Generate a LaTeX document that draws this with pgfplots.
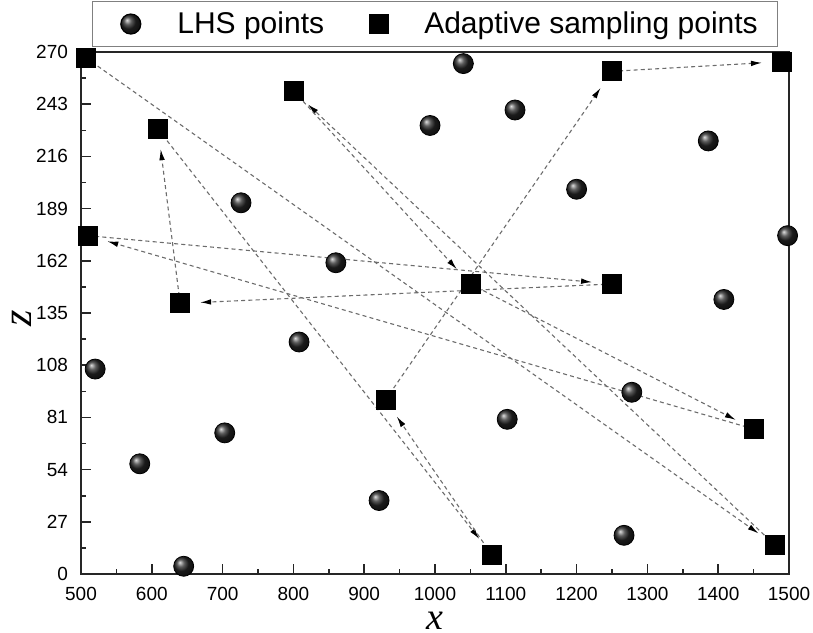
\documentclass[border=0pt]{standalone}
\usepackage{fontspec}
\setmainfont{Liberation Sans}
\newfontfamily\seriffont{Liberation Serif}
\usepackage{pgfplots}
\pgfplotsset{compat=1.18}
\usetikzlibrary{arrows.meta}

\pgfplotstableread{
x y
1040 264
993 232
1113 240
1386 224
1200 199
726 192
1498 175
860 161
1408 142
808 120
520 106
1278 94
703 73
1102 80
583 57
921 38
1267 20
645 4
}\lhs

\pgfplotstableread{
x y
507 267
800 250
1250 260
1490 265
609 230
510 175
640 140
1050 150
1250 150
930 90
1450 75
1080 10
1480 15
}\adaptive

\tikzset{arr/.style={dash pattern=on 2pt off 1.6pt, line width=0.55pt, color=gray!85!black,
  -{Latex[length=5.5pt,width=2.8pt,black]}, shorten >=10pt}}

\begin{document}
\begin{tikzpicture}
\useasboundingbox (-40.5pt,-29pt) rectangle (366pt,287pt);
\begin{axis}[
  scale only axis, width=354pt, height=261pt,
  xmin=500, xmax=1500, ymin=0, ymax=270,
  xtick={500,600,...,1500}, ytick={0,27,...,270},
  minor tick num=1,
  tick pos=left, tick align=inside,
  major tick length=5pt, minor tick length=2.5pt,
  axis line style={line width=0.8pt, black!85},
  every tick/.style={line width=0.8pt, black!85},
  ticklabel style={font=\fontsize{9.5}{10}\selectfont},
  xticklabel style={yshift=-3pt},
  yticklabel style={xshift=-3pt},
  /pgf/number format/assume math mode=true,
  /pgf/number format/1000 sep={},
  xlabel={\seriffont\itshape x}, ylabel={\seriffont\itshape z},
  xlabel style={font=\fontsize{19}{19}\selectfont, inner sep=0pt, at={(axis description cs:0.5,-0.089)}, anchor=center},
  ylabel style={font=\fontsize{21}{21}\selectfont, inner sep=0pt, at={(axis description cs:-0.0833,0.49)}, anchor=center},
  clip=false,
  legend columns=2,
  legend image code/.code={\path (-11pt,0pt) (4pt,0pt); \draw[#1] plot coordinates {(0pt,0pt)};},
  legend style={at={(axis description cs:0.5,1)}, anchor=south, yshift=2.5pt, draw=gray,
    line width=0.6pt, inner xsep=7.75pt, inner ysep=3pt,
    font=\fontsize{15}{16}\selectfont,
    /tikz/every odd column/.append style={column sep=16pt},
    /tikz/every even column/.append style={column sep=14pt}},
]
% sampling order arrows
\addplot[arr, forget plot] coordinates {(507,267) (1480,15)};
\addplot[arr, forget plot] coordinates {(1480,15) (800,250)};
\addplot[arr, forget plot] coordinates {(800,250) (1050,150)};
\addplot[arr, forget plot] coordinates {(1050,150) (1450,75)};
\addplot[arr, forget plot] coordinates {(1450,75) (510,175)};
\addplot[arr, forget plot] coordinates {(510,175) (1250,150)};
\addplot[arr, forget plot] coordinates {(1250,150) (640,140)};
\addplot[arr, forget plot] coordinates {(640,140) (609,230)};
\addplot[arr, forget plot] coordinates {(609,230) (1080,10)};
\addplot[arr, forget plot] coordinates {(1080,10) (930,90)};
\addplot[arr, forget plot] coordinates {(930,90) (1250,260)};
\addplot[arr, forget plot] coordinates {(1250,260) (1490,265)};

\addplot[only marks, mark=ball, mark size=5pt, mark options={ball color=black!85}] table {\lhs};
\addlegendentry{LHS points}
\addplot[only marks, mark=square*, mark size=4.75pt, mark options={fill=black, draw=black}] table {\adaptive};
\addlegendentry{Adaptive sampling points}
\end{axis}
\end{tikzpicture}
\end{document}
